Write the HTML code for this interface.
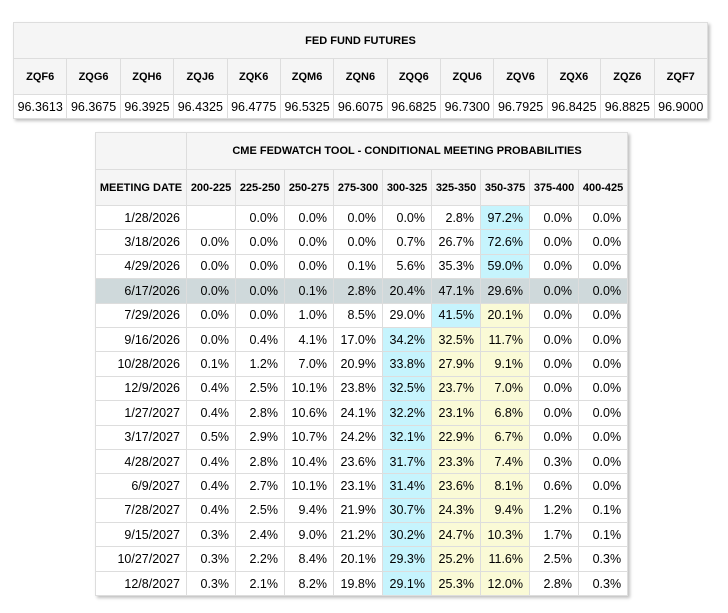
<!DOCTYPE html>
<html><head><meta charset="utf-8"><style>
body{margin:0;background:#fff;width:728px;height:613px;position:relative;font-family:"Liberation Sans",Arial,sans-serif;color:#000;overflow:hidden}
table{border-collapse:collapse;table-layout:fixed;position:absolute;box-shadow:2px 2px 3px rgba(0,0,0,0.25)}
td,th{border:1px solid #ddd;padding:0;font-size:12px;overflow:hidden;white-space:nowrap}
th{background:#f5f5f5;font-weight:bold;font-size:11px;text-align:center}
#fut{left:13px;top:22px;width:694px}
#fut td{text-align:center;font-size:12.5px;height:23px}
#cme{left:95px;top:132px;width:532px}
#cme td{text-align:right;padding-right:6px;height:23.4px;font-size:12.5px}
.c{background:#c6f4fd}.y{background:#fafad6}
tr.g td{background:#cfd9db}
</style></head><body>
<table id="fut">
<colgroup><col span="13" style="width:53.38px"></colgroup>
<tr><th colspan="13" style="height:35px">FED FUND FUTURES</th></tr>
<tr style="height:36px">
<th>ZQF6</th><th>ZQG6</th><th>ZQH6</th><th>ZQJ6</th><th>ZQK6</th><th>ZQM6</th><th>ZQN6</th><th>ZQQ6</th><th>ZQU6</th><th>ZQV6</th><th>ZQX6</th><th>ZQZ6</th><th>ZQF7</th></tr>
<tr>
<td>96.3613</td><td>96.3675</td><td>96.3925</td><td>96.4325</td><td>96.4775</td><td>96.5325</td><td>96.6075</td><td>96.6825</td><td>96.7300</td><td>96.7925</td><td>96.8425</td><td>96.8825</td><td>96.9000</td></tr>
</table>
<table id="cme">
<colgroup><col style="width:91px"><col span="9" style="width:49px"></colgroup>
<tr><th style="height:36px;background:#f5f5f5"></th><th colspan="9">CME FEDWATCH TOOL - CONDITIONAL MEETING PROBABILITIES</th></tr>
<tr style="height:36px"><th>MEETING DATE</th><th>200-225</th><th>225-250</th><th>250-275</th><th>275-300</th><th>300-325</th><th>325-350</th><th>350-375</th><th>375-400</th><th>400-425</th></tr>
<tbody id="rows"></tbody>
</table>
<script>
const dates=["1/28/2026","3/18/2026","4/29/2026","6/17/2026","7/29/2026","9/16/2026","10/28/2026","12/9/2026","1/27/2027","3/17/2027","4/28/2027","6/9/2027","7/28/2027","9/15/2027","10/27/2027","12/8/2027"];
const probs=[
["","0.0%","0.0%","0.0%","0.0%","2.8%","97.2%","0.0%","0.0%"],
["0.0%","0.0%","0.0%","0.0%","0.7%","26.7%","72.6%","0.0%","0.0%"],
["0.0%","0.0%","0.0%","0.1%","5.6%","35.3%","59.0%","0.0%","0.0%"],
["0.0%","0.0%","0.1%","2.8%","20.4%","47.1%","29.6%","0.0%","0.0%"],
["0.0%","0.0%","1.0%","8.5%","29.0%","41.5%","20.1%","0.0%","0.0%"],
["0.0%","0.4%","4.1%","17.0%","34.2%","32.5%","11.7%","0.0%","0.0%"],
["0.1%","1.2%","7.0%","20.9%","33.8%","27.9%","9.1%","0.0%","0.0%"],
["0.4%","2.5%","10.1%","23.8%","32.5%","23.7%","7.0%","0.0%","0.0%"],
["0.4%","2.8%","10.6%","24.1%","32.2%","23.1%","6.8%","0.0%","0.0%"],
["0.5%","2.9%","10.7%","24.2%","32.1%","22.9%","6.7%","0.0%","0.0%"],
["0.4%","2.8%","10.4%","23.6%","31.7%","23.3%","7.4%","0.3%","0.0%"],
["0.4%","2.7%","10.1%","23.1%","31.4%","23.6%","8.1%","0.6%","0.0%"],
["0.4%","2.5%","9.4%","21.9%","30.7%","24.3%","9.4%","1.2%","0.1%"],
["0.3%","2.4%","9.0%","21.2%","30.2%","24.7%","10.3%","1.7%","0.1%"],
["0.3%","2.2%","8.4%","20.1%","29.3%","25.2%","11.6%","2.5%","0.3%"],
["0.3%","2.1%","8.2%","19.8%","29.1%","25.3%","12.0%","2.8%","0.3%"]];
const currentIdx=6, grayRow=3;
const tb=document.getElementById('rows');
dates.forEach((d,i)=>{
  const tr=document.createElement('tr');
  
  
  if(i===grayRow) tr.className='g';
  const td0=document.createElement('td');td0.textContent=d;
  
  
  tr.appendChild(td0);
  const vals=probs[i].map(v=>parseFloat(v)||0);
  let mx=0;vals.forEach((v,j)=>{if(v>vals[mx])mx=j;});
  probs[i].forEach((v,j)=>{
    const td=document.createElement('td');td.textContent=v;
    
    
    if(j===mx) td.className='c';
    else if((j>mx&&j<=currentIdx)||(j<mx&&j>=currentIdx)) td.className='y';
    tr.appendChild(td);
  });
  tb.appendChild(tr);
});
</script>
</body></html>
